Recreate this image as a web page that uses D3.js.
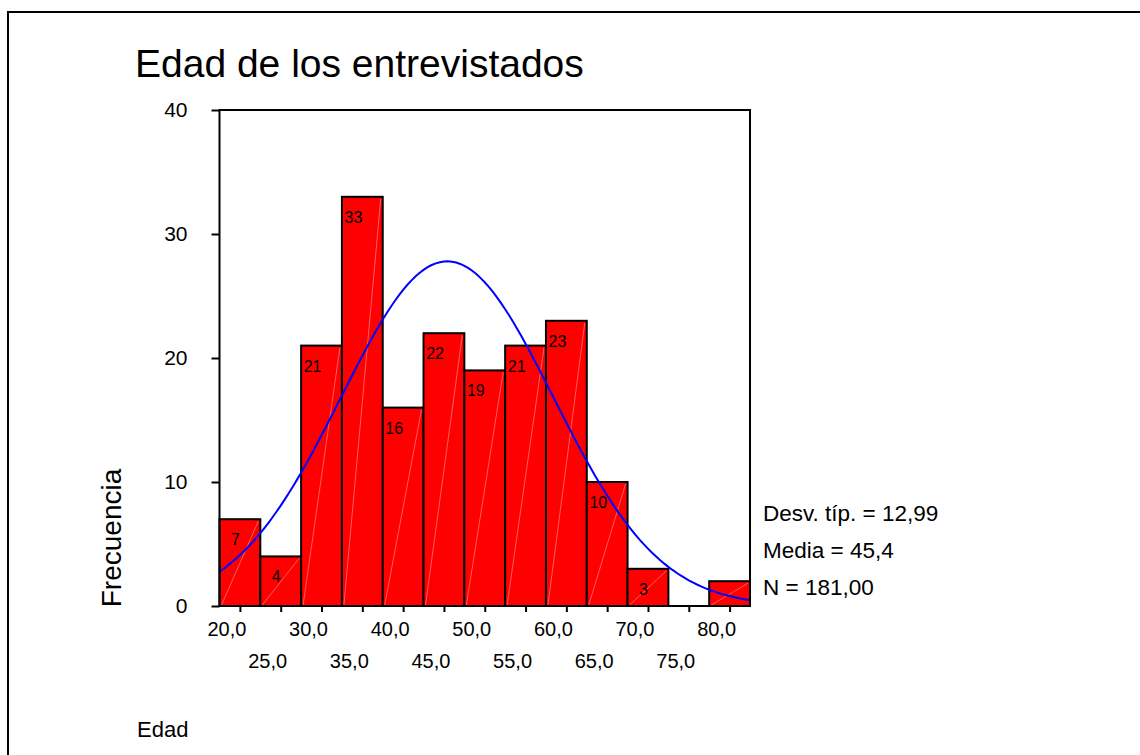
<!DOCTYPE html>
<html>
<head>
<meta charset="utf-8">
<script src="https://cdn.jsdelivr.net/npm/d3@7"></script>
<style>
  body { margin: 0; background: #fff; }
  svg text { font-family: "Liberation Sans", Arial, sans-serif; fill: #000; }
</style>
</head>
<body>
<div id="chart"></div>
<script>
// Histogram data (age bins, midpoints)
const binMids = [20, 25, 30, 35, 40, 45, 50, 55, 60, 65, 70, 75, 80];
const counts = [7, 4, 21, 33, 16, 22, 19, 21, 23, 10, 3, 0, 2];
const binWidth = 5;
const yTicks = [0, 10, 20, 30, 40];
const xTickLabels = ["20,0", "25,0", "30,0", "35,0", "40,0", "45,0", "50,0", "55,0", "60,0", "65,0", "70,0", "75,0", "80,0"];
const statLines = ["Desv. típ. = 12,99", "Media = 45,4", "N = 181,00"];
const mean = 45.4, sd = 12.99, n = 181;

const width = 1140, height = 755;

const svg = d3.select("#chart")
  .append("svg")
  .attr("width", width)
  .attr("height", height);

// outer frame (runs off the right and bottom edges)
svg.append("rect")
  .attr("x", 8).attr("y", 12)
  .attr("width", 1200).attr("height", 900)
  .attr("fill", "none")
  .attr("stroke", "#000")
  .attr("stroke-width", 2);

svg.append("text")
  .attr("x", 135).attr("y", 77)
  .style("font-size", "39px")
  .text("Edad de los entrevistados");

// scales
const x = d3.scaleLinear()
  .domain([17.5, 82.5])
  .range([219.5, 750]);

const y = d3.scaleLinear()
  .domain([0, 40])
  .range([606, 110]);

const bars = binMids.map((m, i) => ({ mid: m, count: counts[i] }));

// bars
const barG = svg.append("g");
barG.selectAll("rect")
  .data(bars.filter(d => d.count > 0))
  .enter()
  .append("rect")
  .attr("x", d => x(d.mid - binWidth / 2))
  .attr("y", d => y(d.count))
  .attr("width", d => x(d.mid + binWidth / 2) - x(d.mid - binWidth / 2))
  .attr("height", d => y(0) - y(d.count))
  .attr("fill", "#ff0000")
  .attr("stroke", "#000")
  .attr("stroke-width", 2);

// faint diagonal streaks inside the bars
barG.selectAll("line.streak")
  .data(bars.filter(d => d.count > 0))
  .enter()
  .append("line")
  .attr("class", "streak")
  .attr("x1", d => x(d.mid - binWidth / 2) + 2)
  .attr("y1", y(0) - 1)
  .attr("x2", d => x(d.mid + binWidth / 2) - 2)
  .attr("y2", d => y(d.count) + 2)
  .attr("stroke", "#ff9a9a")
  .attr("stroke-width", 0.6);

// count labels
barG.selectAll("text")
  .data(bars.filter(d => d.count > 2))
  .enter()
  .append("text")
  .attr("x", d => x(d.mid))
  .attr("y", d => y(d.count) + 26)
  .attr("text-anchor", "end")
  .style("font-size", "16px")
  .text(d => d.count);

// normal curve from the reported mean / sd
const curvePts = d3.range(17.5, 82.51, 0.5).map(v => ({
  v: v,
  f: n * binWidth / (sd * Math.sqrt(2 * Math.PI)) * Math.exp(-0.5 * Math.pow((v - mean) / sd, 2))
}));
svg.append("path")
  .datum(curvePts)
  .attr("d", d3.line().x(d => x(d.v)).y(d => y(d.f)))
  .attr("fill", "none")
  .attr("stroke", "#0000ff")
  .attr("stroke-width", 2);

// plot frame
svg.append("rect")
  .attr("x", x.range()[0]).attr("y", y.range()[1])
  .attr("width", x.range()[1] - x.range()[0])
  .attr("height", y.range()[0] - y.range()[1])
  .attr("fill", "none")
  .attr("stroke", "#000")
  .attr("stroke-width", 2);

// y axis
const yAxis = svg.append("g")
  .attr("transform", `translate(${x.range()[0]},0)`)
  .call(d3.axisLeft(y).tickValues(yTicks).tickSize(8).tickPadding(24).tickFormat(d3.format("d")));
yAxis.select(".domain").remove();
yAxis.selectAll("line").attr("stroke-width", 2);
yAxis.selectAll("text").style("font-size", "21px").attr("font-family", null);

// x axis
const xAxis = svg.append("g")
  .attr("transform", `translate(0,${y.range()[0]})`)
  .call(d3.axisBottom(x).tickValues(binMids).tickSize(6).tickFormat(""));
xAxis.select(".domain").remove();
xAxis.selectAll("line").attr("stroke-width", 2);

svg.append("g").selectAll("text")
  .data(binMids)
  .enter()
  .append("text")
  .attr("x", d => x(d) - 13)
  .attr("y", (d, i) => i % 2 === 0 ? 636 : 668)
  .attr("text-anchor", "middle")
  .style("font-size", "20px")
  .text((d, i) => xTickLabels[i]);

// axis titles
svg.append("text")
  .attr("transform", "translate(121,538) rotate(-90)")
  .attr("text-anchor", "middle")
  .style("font-size", "28px")
  .text("Frecuencia");

svg.append("text")
  .attr("x", 137).attr("y", 737)
  .style("font-size", "22px")
  .text("Edad");

// stats
svg.append("g").selectAll("text")
  .data(statLines)
  .enter()
  .append("text")
  .attr("x", 763)
  .attr("y", (d, i) => [521, 558, 595][i])
  .style("font-size", "22.5px")
  .text(d => d);
</script>
</body>
</html>
